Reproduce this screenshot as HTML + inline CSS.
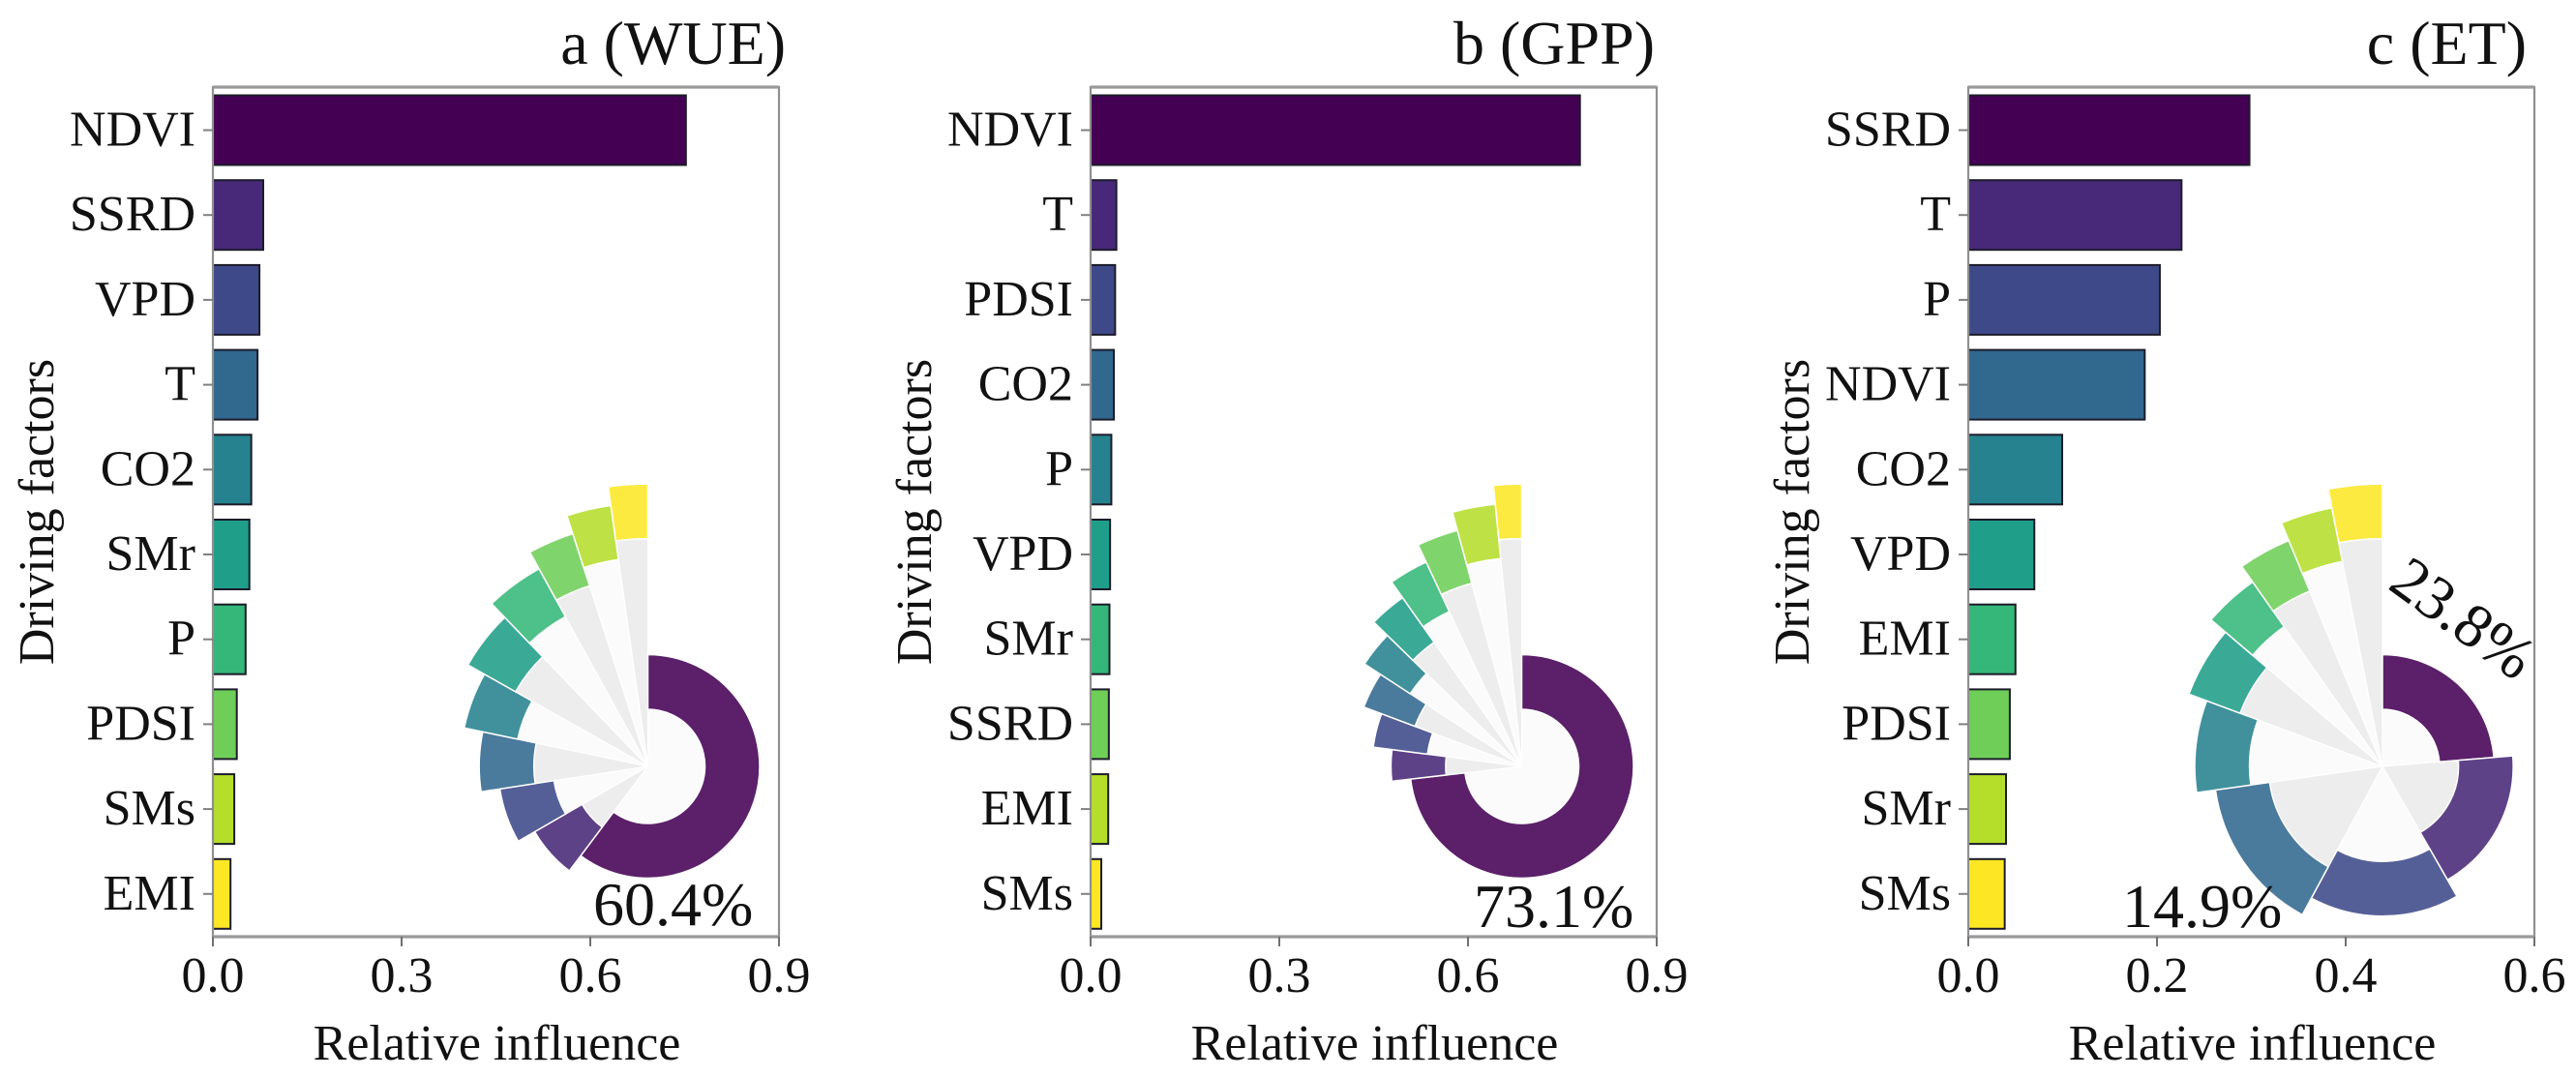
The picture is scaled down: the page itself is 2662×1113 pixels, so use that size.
<!DOCTYPE html>
<html lang="en">
<head>
<meta charset="utf-8">
<title>Relative influence of driving factors</title>
<style>
  html, body { margin: 0; padding: 0; background: #ffffff; }
  #figure { display: block; width: 2662px; height: 1113px; }
  text { font-family: "Liberation Serif", "Times New Roman", serif; fill: #111111; }
</style>
</head>
<body>
<svg id="figure" xmlns="http://www.w3.org/2000/svg" width="2662" height="1113" viewBox="0 0 2662 1113"></svg>
<script>
// ---- chart data ----
const titles = ["a (WUE)", "b (GPP)", "c (ET)"];
const categoriesA = ["NDVI", "SSRD", "VPD", "T", "CO2", "SMr", "P", "PDSI", "SMs", "EMI"];
const categoriesB = ["NDVI", "T", "PDSI", "CO2", "P", "VPD", "SMr", "SSRD", "EMI", "SMs"];
const categoriesC = ["SSRD", "T", "P", "NDVI", "CO2", "VPD", "EMI", "PDSI", "SMr", "SMs"];
const valuesA = [0.752, 0.080, 0.074, 0.071, 0.061, 0.058, 0.052, 0.038, 0.034, 0.028];
const valuesB = [0.778, 0.041, 0.039, 0.037, 0.033, 0.031, 0.030, 0.029, 0.028, 0.017];
const valuesC = [0.298, 0.226, 0.203, 0.187, 0.0995, 0.070, 0.050, 0.044, 0.040, 0.0386];
const xTicksA = [0.0, 0.3, 0.6, 0.9];
const xTicksB = [0.0, 0.3, 0.6, 0.9];
const xTicksC = [0.0, 0.2, 0.4, 0.6];
const viridis = ["#440154", "#482878", "#3e4989", "#31688e", "#26828e", "#1f9e89", "#35b779", "#6ece58", "#b5de2b", "#fde725"];

// ---- layout ----
const NS = "http://www.w3.org/2000/svg";
const svg = document.getElementById("figure");
const AX_TOP = 90, AX_BOTTOM = 968, AX_W = 585;
const BAR_H = 72, ROW_0 = 134.5, ROW_STEP = 87.7;
const RING_0 = 59, RING_STEP = 19.6, RING_W = 56.5, INSET_CY = 792;

const panels = [
  { key: "a", left: 220, cx: 669.5, title: titles[0], titleRight: 812, cats: categoriesA, vals: valuesA, ticks: xTicksA },
  { key: "b", left: 1127, cx: 1572.5, title: titles[1], titleRight: 1710, cats: categoriesB, vals: valuesB, ticks: xTicksB },
  { key: "c", left: 2034, cx: 2462, title: titles[2], titleRight: 2611, cats: categoriesC, vals: valuesC, ticks: xTicksC }
];

function make(tag, attrs, parent, content) {
  const node = document.createElementNS(NS, tag);
  for (const k in attrs) node.setAttribute(k, attrs[k]);
  if (content !== undefined) node.textContent = content;
  parent.appendChild(node);
  return node;
}

function polar(cx, cy, r, deg) {
  const t = deg * Math.PI / 180;
  return [cx + r * Math.sin(t), cy - r * Math.cos(t)];
}

function sectorPath(cx, cy, r0, r1, a0, a1) {
  const large = a1 - a0 > 180 ? 1 : 0;
  const p1 = polar(cx, cy, r1, a0), p2 = polar(cx, cy, r1, a1);
  if (r0 <= 0) {
    return "M" + cx + " " + cy + "L" + p1[0] + " " + p1[1] + "A" + r1 + " " + r1 + " 0 " + large + " 1 " + p2[0] + " " + p2[1] + "Z";
  }
  const p3 = polar(cx, cy, r0, a1), p4 = polar(cx, cy, r0, a0);
  return "M" + p1[0] + " " + p1[1] + "A" + r1 + " " + r1 + " 0 " + large + " 1 " + p2[0] + " " + p2[1] +
         "L" + p3[0] + " " + p3[1] + "A" + r0 + " " + r0 + " 0 " + large + " 0 " + p4[0] + " " + p4[1] + "Z";
}

panels.forEach(function (p) {
  const xMax = p.ticks[p.ticks.length - 1];
  const xScale = function (v) { return p.left + v / xMax * AX_W; };
  const yScale = function (i) { return ROW_0 + i * ROW_STEP; };

  const g = make("g", {}, svg);
  
  

  // title
  const title = make("text", { x: p.titleRight, y: 66, "font-size": 64, "text-anchor": "end" }, g, p.title);
  
  

  // bars
  p.vals.forEach(function (v, i) {
    const bar = make("rect", {
      x: p.left, y: yScale(i) - BAR_H / 2, width: xScale(v) - p.left, height: BAR_H,
      fill: viridis[i], stroke: "#1c1c2a", "stroke-width": 2
    }, g);
    
    
  });

  // frame
  const frame = make("rect", { x: p.left, y: AX_TOP, width: AX_W, height: AX_BOTTOM - AX_TOP, fill: "none", stroke: "#8f8f8f", "stroke-width": 2.2 }, g);
  
  
  const topLine = make("line", { x1: p.left, x2: p.left + AX_W, y1: AX_TOP, y2: AX_TOP, stroke: "#9a9a9a", "stroke-width": 3.2 }, g);
  
  
  const bottomLine = make("line", { x1: p.left, x2: p.left + AX_W, y1: AX_BOTTOM, y2: AX_BOTTOM, stroke: "#9a9a9a", "stroke-width": 3.2 }, g);
  
  

  // y ticks and labels
  p.cats.forEach(function (c, i) {
    const tick = make("line", { x1: p.left - 10, x2: p.left, y1: yScale(i), y2: yScale(i), stroke: "#808080", "stroke-width": 2 }, g);
    
    
    const label = make("text", { x: p.left - 18, y: yScale(i) + 16, "font-size": 52, "text-anchor": "end" }, g, c);
    
    
  });

  // x ticks and labels
  p.ticks.forEach(function (t) {
    const tick = make("line", { x1: xScale(t), x2: xScale(t), y1: AX_BOTTOM, y2: AX_BOTTOM + 10, stroke: "#707070", "stroke-width": 2 }, g);
    
    
    const label = make("text", { x: xScale(t), y: 1025, "font-size": 52, "text-anchor": "middle" }, g, t.toFixed(1));
    
    
  });

  // axis titles
  const xTitle = make("text", { x: p.left + AX_W / 2 + 1, y: 1095, "font-size": 52, "text-anchor": "middle" }, g, "Relative influence");
  
  
  const yX = p.left - 165;
  const yTitle = make("text", { x: yX, y: 529, "font-size": 52, "text-anchor": "middle", transform: "rotate(-90 " + yX + " 529)" }, g, "Driving factors");
  
  

  // inset spiral donut: slice angles come from each value's share of the total
  const total = p.vals.reduce(function (s, v) { return s + v; }, 0);
  const inset = make("g", {}, g);
  
  
  let angle = 0;
  const slices = p.vals.map(function (v, i) {
    const span = v / total * 360;
    const s = { start: angle, end: angle + span, r0: RING_0 + i * RING_STEP, i: i };
    angle += span;
    return s;
  });
  slices.forEach(function (s) {
    const gray = make("path", {
      d: sectorPath(p.cx, INSET_CY, 0, s.r0, s.start, s.end),
      fill: s.i % 2 === 0 ? "#fbfbfb" : "#ededed", stroke: "#ffffff", "stroke-width": 1.2
    }, inset);
    
    
  });
  slices.forEach(function (s) {
    const ring = make("path", {
      d: sectorPath(p.cx, INSET_CY, s.r0, s.r0 + RING_W, s.start, s.end),
      fill: viridis[s.i], "fill-opacity": 0.88, stroke: "#ffffff", "stroke-width": 1.5
    }, inset);
    
    
  });
});

// percentage callouts
const calloutText = ["60.4%", "73.1%", "14.9%", "23.8%"];
const c0 = make("text", { x: 613, y: 956, "font-size": 64 }, svg, calloutText[0]);


const c1 = make("text", { x: 1523, y: 958, "font-size": 64 }, svg, calloutText[1]);


const c2 = make("text", { x: 2193, y: 958, "font-size": 64 }, svg, calloutText[2]);


const c3 = make("text", { x: 2533, y: 656, "font-size": 64, "text-anchor": "middle", transform: "rotate(36 2533 656)" }, svg, calloutText[3]);


</script>
</body>
</html>
